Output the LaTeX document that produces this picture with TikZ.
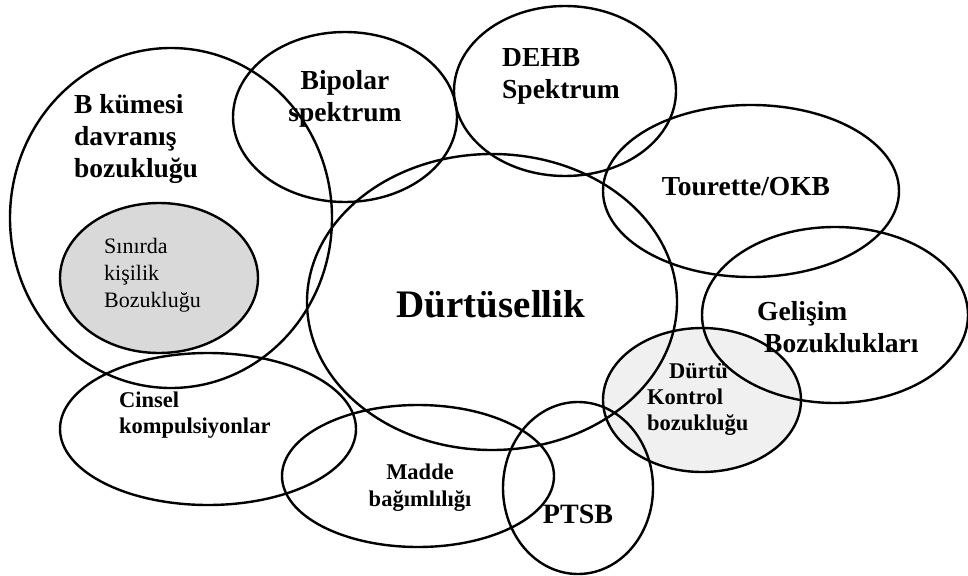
\documentclass[tikz,border=0pt]{standalone}
\usepackage{fontspec}
\setmainfont{Liberation Serif}
\usepackage{tikz}
\usetikzlibrary{calc,positioning}
\definecolor{sinirgray}{RGB}{217,217,217}
\definecolor{kontrolgray}{RGB}{240,240,240}

\begin{document}
\begin{tikzpicture}[x=1pt,y=-1pt,
    ring/.style={line width=2.4pt,black},
    bigtxt/.style={inner sep=0pt,font=\fontsize{27.5}{32}\selectfont\bfseries},
    smalltxt/.style={inner sep=0pt,font=\fontsize{22.5}{26}\selectfont\bfseries}]
      \useasboundingbox (0,0) rectangle (968,575);
      % shaded sets first, outlines on top
      \fill[sinirgray] (159,278) ellipse [x radius=99,y radius=75];
      \fill[kontrolgray] (702,400) ellipse [x radius=99,y radius=72];
      \foreach \cx/\cy/\rx/\ry in {171/218/161/170, 159/278/99/75,
            345/117/112/85, 565/91/111/85, 751/191/148/86, 492/302/185/148,
            835/315/133/88, 702/400/99/72, 208/429/148/76, 418/476/136/71,
            578/488/75/86}{
        \draw[ring] (\cx,\cy) ellipse [x radius=\rx,y radius=\ry];
      }
      % labels
      \node[bigtxt,anchor=west,align=left] (bkume) at (74,139)
            {B kümesi\\davranış\\bozukluğu};
      \node[anchor=west,align=left,inner sep=0pt,
            font=\fontsize{22}{27}\selectfont] (sinir) at (104,275)
            {Sınırda\\kişilik\\Bozukluğu};
      \node[bigtxt,align=center] (bipolar) at (345,99) {Bipolar\\spektrum};
      \node[bigtxt,anchor=west,align=left] (dehb) at (502,76) {DEHB\\Spektrum};
      \node[bigtxt] (tourette) at (746,187) {Tourette/OKB};
      \node[inner sep=0pt,font=\fontsize{39}{44}\selectfont\bfseries]
            (durtu) at (491,304) {Dürtüsellik};
      \node[bigtxt,anchor=west,align=left] (gelisim) at (757,327)
            {Gelişim\\\hspace*{7pt}Bozuklukları};
      \node[smalltxt,anchor=west,align=left] (kontrol) at (647,399)
            {\hspace*{22pt}Dürtü\\Kontrol\\bozukluğu};
      \node[smalltxt,anchor=west,align=left] (cinsel) at (119,415)
            {Cinsel\\kompulsiyonlar};
      \node[smalltxt,align=center,font=\fontsize{22.5}{27}\selectfont\bfseries]
            (madde) at (420,488) {Madde\\bağımlılığı};
      \node[inner sep=0pt,font=\fontsize{28}{32}\selectfont\bfseries]
            (ptsb) at (578,514) {PTSB};
\end{tikzpicture}
\end{document}
